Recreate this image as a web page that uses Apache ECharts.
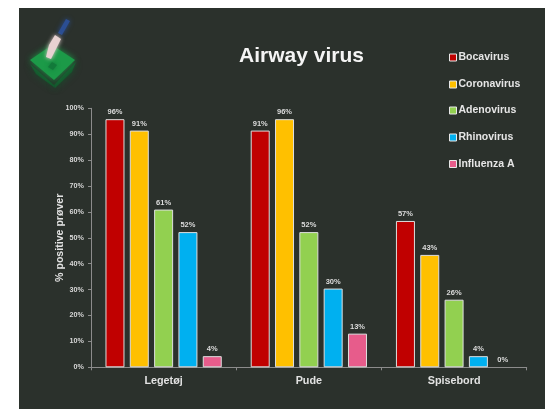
<!DOCTYPE html>
<html><head><meta charset="utf-8">
<style>html,body{margin:0;padding:0;background:#fff}#c{width:545px;height:409px}</style>
<script src="https://cdn.jsdelivr.net/npm/echarts@6/dist/echarts.min.js"></script>
</head><body><div id="c"></div>
<script>
const categories = ['Legetøj', 'Pude', 'Spisebord'];
const bocavirus = [95.8, 91.4, 56.5];
const coronavirus = [91.4, 95.8, 43.4];
const adenovirus = [60.9, 52.2, 26.1];
const rhinovirus = [52.2, 30.4, 4.3];
const influenzaA = [4.3, 13.0, 0];
const seriesNames = ['Bocavirus', 'Coronavirus', 'Adenovirus', 'Rhinovirus', 'Influenza A'];
const seriesData = [bocavirus, coronavirus, adenovirus, rhinovirus, influenzaA];
const colors = ['#c00000', '#ffc000', '#92d050', '#00b0f0', '#e75c8b'];
const font = '"Liberation Sans", Arial, sans-serif';
const chart = echarts.init(document.getElementById('c'), null, {renderer: 'canvas'});
const legendTops = [52, 79, 105, 132, 158.5];
const blob = (points, fill, blur, z) => ({type: 'polygon', silent: true, z: z,
  shape: {points: points}, style: {fill: fill, shadowBlur: blur, shadowColor: fill}});
chart.setOption({
  animation: false,
  backgroundColor: '#ffffff',
  textStyle: {fontFamily: font},
  title: {text: 'Airway virus', left: 239, top: 46,
    padding: 0,
    textStyle: {color: '#f4f4f4', fontSize: 21, fontWeight: 'bold', fontFamily: font}},
  legend: seriesNames.map((n, i) => ({
    data: [n], left: 449, top: legendTops[i], orient: 'vertical', itemWidth: 7, itemHeight: 7, itemGap: 0,
    icon: 'rect', padding: 0,
    textStyle: {color: '#e6e6e6', fontSize: 10.5, fontWeight: 'bold', fontFamily: font, padding: [0, 0, 0, -3]},
    itemStyle: {borderColor: '#e8e8e8', borderWidth: 1}
  })),
  grid: {left: 91, right: 18.3, top: 108.3, bottom: 41.7, containLabel: false},
  xAxis: {type: 'category', data: categories,
    axisLine: {lineStyle: {color: '#8c8c8c', width: 1}},
    axisTick: {show: true, length: 3, alignWithLabel: false, lineStyle: {color: '#8c8c8c'}},
    axisLabel: {color: '#e2e2e2', fontSize: 10.8, fontWeight: 'bold', margin: 8, fontFamily: font}},
  yAxis: {type: 'value', min: 0, max: 100, interval: 10,
    name: '% positive prøver', nameLocation: 'middle', nameGap: 25, nameRotate: 90, nameMoveOverlap: false,
    nameTextStyle: {color: '#e2e2e2', fontSize: 10.6, fontWeight: 'bold', fontFamily: font},
    axisLine: {show: true, lineStyle: {color: '#8c8c8c', width: 1}},
    axisTick: {show: true, length: 3, lineStyle: {color: '#8c8c8c'}},
    splitLine: {show: false},
    axisLabel: {color: '#d8d8d8', fontSize: 7.2, fontWeight: 'bold', margin: 7, formatter: '{value}%', fontFamily: font}},
  series: seriesNames.map((n, i) => ({
    name: n, type: 'bar', barWidth: 19, barGap: '28%',
    data: seriesData[i].map(v => v === 0 ? {value: v, itemStyle: {borderWidth: 0}} : v),
    itemStyle: {color: colors[i], borderColor: '#dedede', borderWidth: 1},
    label: {show: true, position: 'top', distance: 3, color: '#dcdcdc', fontSize: 7.5, fontWeight: 'bold', fontFamily: font,
      formatter: p => Math.round(p.value) + '%'}
  })),
  graphic: [
    {type: 'rect', z: -10, silent: true, shape: {x: 19, y: 8, width: 526, height: 401}, style: {fill: '#2b312c'}},
    blob([[30, 64], [54, 85], [55, 88], [36, 74]], '#15592e', 7, 1),
    blob([[76, 62], [54, 85], [55, 88], [72, 72]], '#15592e', 7, 1),
    blob([[30, 60], [52, 45], [75, 60], [54, 80]], '#1c9a48', 6, 2),
    blob([[48, 67], [53, 70], [57, 65], [52, 62]], '#127a3a', 4, 3),
    blob([[62, 35], [70, 21], [66, 19], [58, 33]], '#2b4e93', 5, 3),
    blob([[46, 57], [51, 59], [61, 39], [55, 35], [49, 45]], '#e8d2d2', 4, 4)
  ]
});
</script></body></html>
